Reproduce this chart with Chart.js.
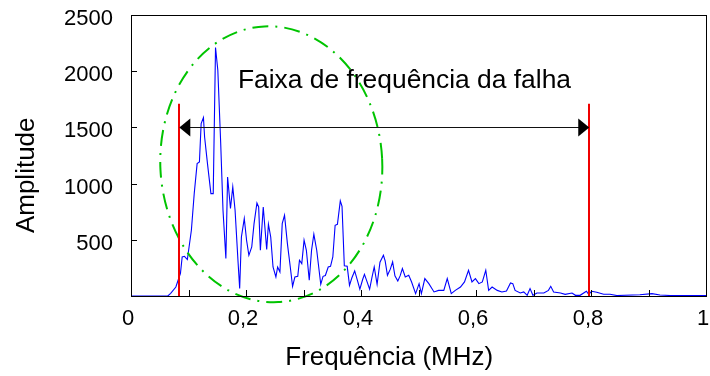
<!DOCTYPE html>
<html>
<head>
<meta charset="utf-8">
<script src="https://cdn.jsdelivr.net/npm/chart.js@4.4.0/dist/chart.umd.min.js"></script>
<style>
  html, body { margin: 0; padding: 0; background: #fff; }
  #wrap { width: 710px; height: 376px; }
</style>
</head>
<body>
<div id="wrap"><canvas id="spectrum"></canvas></div>
<script>
// frequência (MHz) e amplitude
var freqs = [
  0, 0.064, 0.069, 0.078, 0.086, 0.089, 0.093, 0.098, 0.101, 0.105,
  0.110, 0.115, 0.119, 0.122, 0.126, 0.128, 0.133, 0.139, 0.143, 0.147,
  0.151, 0.156, 0.160, 0.165, 0.168, 0.173, 0.177, 0.181, 0.186, 0.189,
  0.192, 0.197, 0.201, 0.205, 0.210, 0.214, 0.219, 0.222, 0.225, 0.230,
  0.236, 0.239, 0.243, 0.247, 0.252, 0.255, 0.259, 0.263, 0.267, 0.272,
  0.277, 0.281, 0.285, 0.290, 0.293, 0.297, 0.301, 0.305, 0.310, 0.314,
  0.318, 0.323, 0.330, 0.334, 0.338, 0.343, 0.347, 0.351, 0.355, 0.359,
  0.364, 0.367, 0.371, 0.376, 0.380, 0.384, 0.389, 0.394, 0.398, 0.403,
  0.406, 0.410, 0.415, 0.419, 0.423, 0.428, 0.433, 0.439, 0.442, 0.446,
  0.451, 0.455, 0.459, 0.464, 0.468, 0.472, 0.477, 0.483, 0.488, 0.495,
  0.501, 0.505, 0.511, 0.518, 0.527, 0.535, 0.544, 0.550, 0.557, 0.564,
  0.573, 0.580, 0.587, 0.593, 0.599, 0.605, 0.611, 0.617, 0.622, 0.628,
  0.637, 0.645, 0.653, 0.660, 0.664, 0.668, 0.677, 0.683, 0.689, 0.694,
  0.699, 0.706, 0.718, 0.726, 0.730, 0.735, 0.747, 0.755, 0.767, 0.773,
  0.781, 0.792, 0.796, 0.801, 0.810, 0.822, 0.833, 0.845, 0.885, 0.906,
  0.920, 0.938, 1.0
];
var amps = [
  0, 0, 24, 80, 202, 347, 353, 324, 436, 585,
  914, 1178, 1193, 1534, 1588, 1415, 1178, 911, 911, 2211,
  2009, 1359, 763, 333, 1059, 778, 970, 763, 318, 66,
  525, 689, 496, 362, 436, 644, 828, 792, 407, 792,
  413, 638, 525, 258, 169, 258, 214, 644, 718, 466,
  258, 86, 169, 175, 318, 288, 496, 407, 140, 407,
  549, 407, 104, 175, 182, 258, 264, 347, 629, 638,
  846, 798, 269, 264, 95, 160, 223, 134, 60, 149,
  193, 134, 60, 164, 259, 104, 300, 362, 313, 184,
  239, 303, 179, 134, 179, 244, 169, 184, 125, 21,
  110, 21, 155, 110, 36, 50, 50, 155, 21, 50,
  80, 125, 229, 125, 155, 110, 125, 229, 50, 80,
  50, 36, 45, 116, 110, 50, 27, 36, 6, 66,
  6, 27, 27, 50, 86, 36, 27, 15, 27, 6,
  6, 42, 15, 42, 33, 15, 15, 4, 11, 21,
  9, 4, 4
];

// faixa da falha (linhas vermelhas + seta) e elipse, em unidades dos eixos
var faultBand = [0.084, 0.797];
var markerTop = 1710;
var arrowLevel = 1500;
var bandLabel = 'Faixa de frequência da falha';
var bandLabelPos = [0.186, 1850];
var circle = { x: 0.244, y: 1172, rx: 0.193, ry: 1228 };

// títulos dos eixos
var xTitle = 'Frequência (MHz)';
var yTitle = 'Amplitude';
var xTitleAt = 0.449;   // centro, em MHz
var yTitleAt = 1074;    // centro, em amplitude

var font = 'Liberation Sans, Arial, sans-serif';

var points = freqs.map(function(f, i) { return { x: f, y: amps[i] }; });

// caixa, ticks internos, títulos e anotações
var overlay = {
  id: 'overlay',
  afterDatasetsDraw: function(chart) {
    var c = chart.ctx, a = chart.chartArea;
    var sx = chart.scales.x, sy = chart.scales.y;
    c.save();

    // elipse tracejada
    var cx = sx.getPixelForValue(circle.x), cy = sy.getPixelForValue(circle.y);
    var rx = sx.getPixelForValue(circle.x + circle.rx) - cx;
    var ry = cy - sy.getPixelForValue(circle.y + circle.ry);
    c.beginPath();
    c.ellipse(cx, cy, rx, ry, -0.05, 0, Math.PI * 2);
    c.strokeStyle = '#00c400';
    c.lineWidth = 2;
    c.setLineDash([16, 7, 2, 7]);
    c.stroke();
    c.setLineDash([]);

    // linhas vermelhas
    var yTop = sy.getPixelForValue(markerTop);
    c.strokeStyle = '#f00000';
    c.lineWidth = 2;
    faultBand.forEach(function(f) {
      var px = Math.round(sx.getPixelForValue(f));
      c.beginPath();
      c.moveTo(px, yTop);
      c.lineTo(px, a.bottom);
      c.stroke();
    });

    // seta dupla
    var x1 = sx.getPixelForValue(faultBand[0]), x2 = sx.getPixelForValue(faultBand[1]);
    var ya = Math.round(sy.getPixelForValue(arrowLevel)) + 0.5;
    c.strokeStyle = '#111';
    c.lineWidth = 1;
    c.beginPath();
    c.moveTo(x1 + 8, ya);
    c.lineTo(x2 - 8, ya);
    c.stroke();
    c.fillStyle = '#000';
    c.beginPath();
    c.moveTo(x1, ya); c.lineTo(x1 + 11, ya - 9); c.lineTo(x1 + 11, ya + 9); c.closePath();
    c.fill();
    c.beginPath();
    c.moveTo(x2, ya); c.lineTo(x2 - 11, ya - 9); c.lineTo(x2 - 11, ya + 9); c.closePath();
    c.fill();

    // texto
    c.font = '26.4px ' + font;
    c.fillStyle = '#000';
    c.textAlign = 'left';
    c.textBaseline = 'alphabetic';
    c.fillText(bandLabel, sx.getPixelForValue(bandLabelPos[0]), sy.getPixelForValue(bandLabelPos[1]));

    // títulos dos eixos
    c.font = '26px ' + font;
    c.textAlign = 'center';
    c.textBaseline = 'middle';
    c.fillText(xTitle, sx.getPixelForValue(xTitleAt), 358);
    c.save();
    c.translate(27, sy.getPixelForValue(yTitleAt));
    c.rotate(-Math.PI / 2);
    c.fillText(yTitle, 0, 0);
    c.restore();

    // caixa do gráfico
    c.strokeStyle = '#000';
    c.lineWidth = 1;
    c.strokeRect(Math.round(a.left) + 0.5, Math.round(a.top) + 0.5,
      Math.round(a.right - a.left), Math.round(a.bottom - a.top));

    // ticks para dentro
    c.beginPath();
    sx.ticks.forEach(function(t) {
      if (t.value <= 0 || t.value >= 1) return;
      var px = Math.round(sx.getPixelForValue(t.value)) + 0.5;
      c.moveTo(px, a.bottom);
      c.lineTo(px, a.bottom - 6);
    });
    sy.ticks.forEach(function(t) {
      if (t.value <= 0 || t.value >= 2500) return;
      var py = Math.round(sy.getPixelForValue(t.value)) + 0.5;
      c.moveTo(a.left, py);
      c.lineTo(a.left + 6, py);
    });
    c.stroke();
    c.restore();
  }
};

new Chart(document.getElementById('spectrum'), {
  type: 'line',
  data: {
    datasets: [{
      data: points,
      borderColor: '#0000ff',
      borderWidth: 1.1,
      pointRadius: 0,
      tension: 0,
      fill: false
    }]
  },
  plugins: [overlay],
  options: {
    responsive: true,
    maintainAspectRatio: false,
    animation: false,
    layout: { padding: { top: 15, right: 4, left: 0, bottom: 0 } },
    plugins: { legend: { display: false }, tooltip: { enabled: false } },
    scales: {
      x: {
        type: 'linear',
        min: 0,
        max: 1,
        grid: { display: false, drawTicks: false },
        border: { display: false },
        ticks: {
          stepSize: 0.1,
          autoSkip: false,
          maxRotation: 0,
          padding: 10,
          labelOffset: -3,
          color: '#000',
          font: { family: font, size: 22 },
          callback: function(v) {
            var k = Math.round(v * 10);
            if (k % 2 !== 0) return '';
            return k === 10 ? '1' : (k === 0 ? '0' : '0,' + k);
          }
        },
        afterFit: function(s) { s.height = 80; s.paddingLeft = 0; s.paddingRight = 0; }
      },
      y: {
        min: 0,
        max: 2500,
        grid: { display: false, drawTicks: false },
        border: { display: false },
        ticks: {
          stepSize: 500,
          padding: 18,
          labelOffset: 4,
          color: '#000',
          font: { family: font, size: 22 },
          callback: function(v) { return v === 0 ? '' : v; }
        },
        afterFit: function(s) { s.width = 131; s.paddingTop = 0; s.paddingBottom = 0; }
      }
    }
  }
});
</script>
</body>
</html>
